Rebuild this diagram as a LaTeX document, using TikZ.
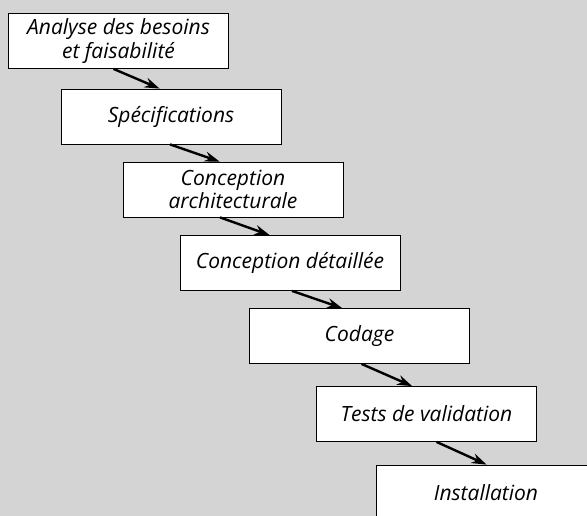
\documentclass[tikz,border=0pt]{standalone}
\usepackage{fontspec}
\setmainfont{Open Sans}
\usetikzlibrary{arrows.meta}

\tikzset{
  etape/.style={rectangle, draw, fill=white, line width=0.8pt,
    minimum width=220pt, minimum height=55pt, inner sep=0pt,
    align=center, font=\itshape\fontsize{21}{23.5}\selectfont},
  fleche/.style={line width=2.4pt, -{Stealth[length=15pt,width=10pt]}}
}

\begin{document}
\begin{tikzpicture}[x=1pt,y=-1pt]
        \useasboundingbox (0,0) rectangle (587,516);
        \clip (0,0) rectangle (587,516);
        \fill[black!17] (0,0) rectangle (587,516);

        \node[etape] (besoins) at (118.5,41) {Analyse des besoins\\et faisabilité};
        \node[etape] (specs) at (171,116.5) {Spécifications};
        \node[etape] (archi) at (233,189.5) {Conception\\architecturale};
        \node[etape] (detail) at (290,263) {Conception détaillée};
        \node[etape] (codage) at (359.5,336) {Codage};
        \node[etape] (tests) at (426.5,414) {Tests de validation};
        \node[etape] (install) at (486,492.5) {Installation};

        \draw[fleche] ([xshift=-5pt]besoins.south) -- ([xshift=99pt]specs.north west);
        \draw[fleche] ([xshift=-1pt]specs.south) -- ([xshift=97pt]archi.north west);
        \draw[fleche] ([xshift=-13pt]archi.south) -- ([xshift=90pt]detail.north west);
        \draw[fleche] ([xshift=2pt]detail.south) -- ([xshift=93pt]codage.north west);
        \draw[fleche] ([xshift=2pt]codage.south) -- ([xshift=96pt]tests.north west);
        \draw[fleche] ([xshift=10pt]tests.south) -- ([xshift=111pt]install.north west);

    \end{tikzpicture}
\end{document}
